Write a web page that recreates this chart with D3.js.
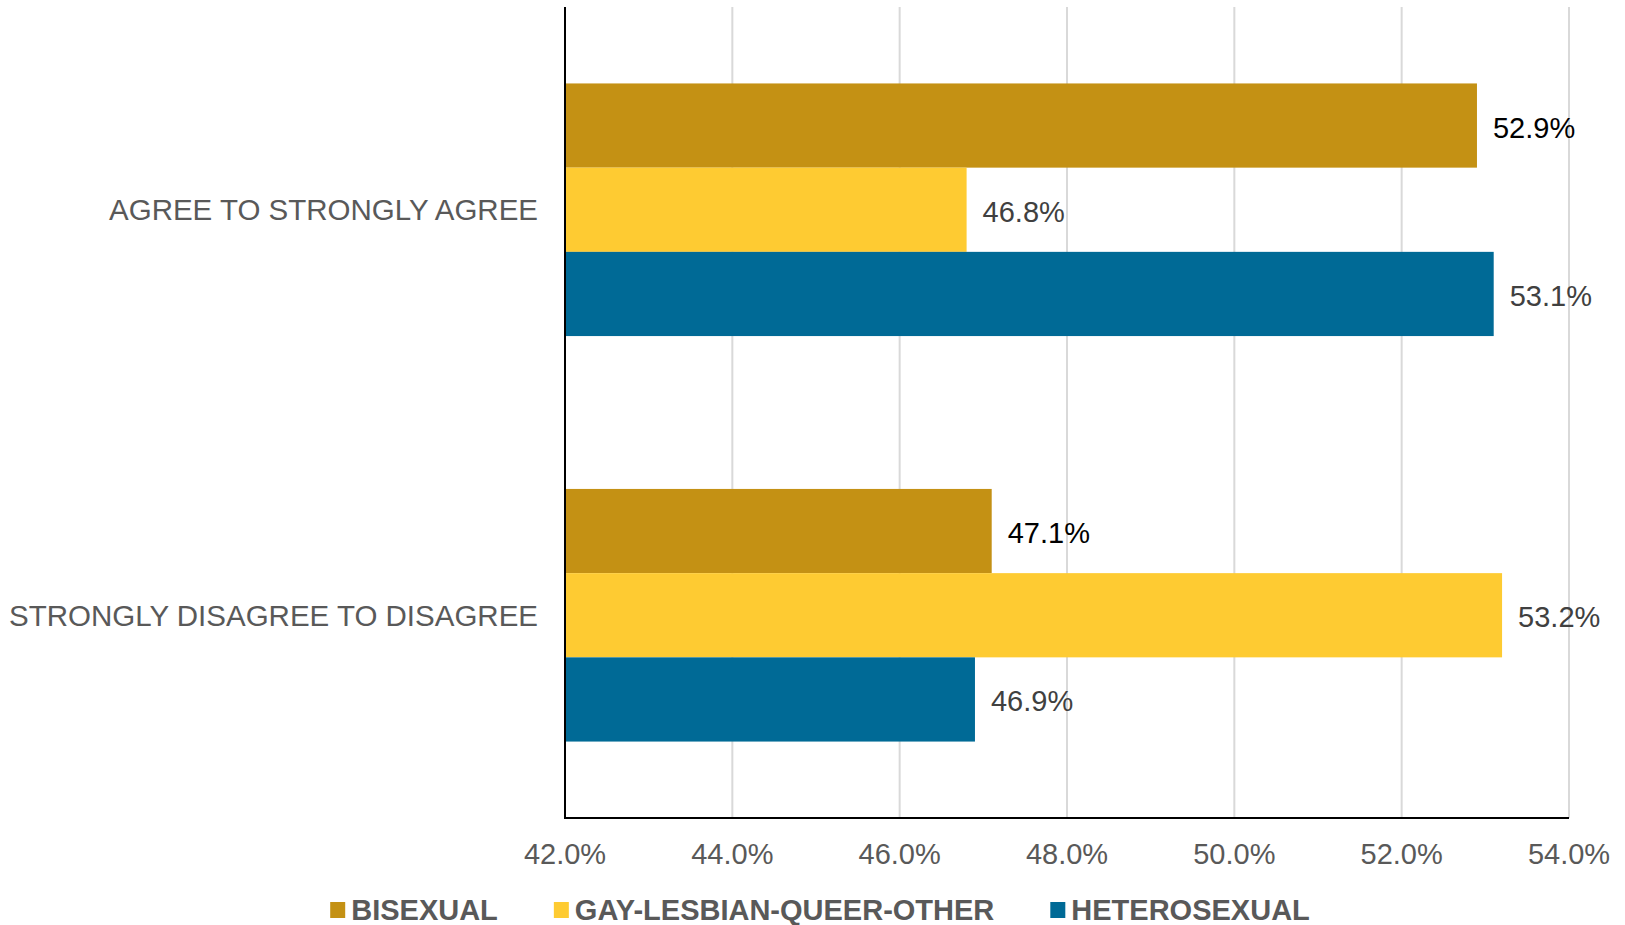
<!DOCTYPE html>
<html>
<head>
  <meta charset="utf-8">
  <style>
    body { margin: 0; background: #fff; }
    #chart text { font-family: "Liberation Sans", Arial, sans-serif; }
    .grid line { stroke: #d9d9d9; stroke-width: 2px; }
    .tick-label { fill: #595959; font-size: 29px; }
    .cat-label { fill: #595959; font-size: 29.5px; }
    .val-label { font-size: 29px; }
    .legend text { fill: #595959; font-size: 29px; font-weight: bold; }
  </style>
</head>
<body>
  <div id="chart"></div>
  <script src="https://d3js.org/d3.v7.min.js"></script>
  <script>
    // data
    var categories = ['AGREE TO STRONGLY AGREE', 'STRONGLY DISAGREE TO DISAGREE'];
    var seriesNames = ['BISEXUAL', 'GAY-LESBIAN-QUEER-OTHER', 'HETEROSEXUAL'];
    var bisexual = [52.9, 47.1];
    var gayLesbian = [46.8, 53.2];
    var heterosexual = [53.1, 46.9];
    var tickValues = [42, 44, 46, 48, 50, 52, 54];

    (function () {
      var seriesValues = [bisexual, gayLesbian, heterosexual];
      var colors = ['#c49114', '#fecb32', '#006a96'];
      var labelColors = ['#000000', '#404040', '#404040'];

      var width = 1625, height = 925;
      var plotLeft = 565, plotRight = 1569, plotTop = 7, plotBottom = 818;

      var svg = d3.select('#chart').append('svg')
        .attr('width', width)
        .attr('height', height);

      var x = d3.scaleLinear().domain([42, 54]).range([plotLeft, plotRight]);
      var y0 = d3.scaleBand().domain(categories).range([plotTop, plotBottom])
        .paddingInner(0.377).paddingOuter(0.1885);
      var y1 = d3.scaleBand().domain(seriesNames).range([0, y0.bandwidth()]);

      // gridlines
      svg.append('g').attr('class', 'grid')
        .selectAll('line').data(tickValues.slice(1)).enter().append('line')
        .attr('x1', function (d) { return x(d); })
        .attr('x2', function (d) { return x(d); })
        .attr('y1', plotTop)
        .attr('y2', plotBottom);

      // bars
      var rows = [];
      categories.forEach(function (c, i) {
        seriesNames.forEach(function (s, j) {
          rows.push({ cat: c, series: s, j: j, value: seriesValues[j][i] });
        });
      });

      svg.append('g').selectAll('rect').data(rows).enter().append('rect')
        .attr('x', x(42))
        .attr('y', function (d) { return y0(d.cat) + y1(d.series); })
        .attr('width', function (d) { return x(d.value) - x(42); })
        .attr('height', y1.bandwidth())
        .attr('fill', function (d) { return colors[d.j]; });

      svg.append('g').selectAll('text').data(rows).enter().append('text')
        .attr('class', 'val-label')
        .attr('x', function (d) { return x(d.value) + 16; })
        .attr('y', function (d) { return y0(d.cat) + y1(d.series) + y1.bandwidth() / 2 + 2; })
        .attr('dominant-baseline', 'central')
        .attr('fill', function (d) { return labelColors[d.j]; })
        .text(function (d) { return d.value.toFixed(1) + '%'; });

      // axis lines
      svg.append('line')
        .attr('x1', plotLeft).attr('x2', plotLeft)
        .attr('y1', plotTop).attr('y2', plotBottom + 1)
        .attr('stroke', '#000').attr('stroke-width', 2);
      svg.append('line')
        .attr('x1', plotLeft - 1).attr('x2', plotRight)
        .attr('y1', plotBottom).attr('y2', plotBottom)
        .attr('stroke', '#000').attr('stroke-width', 2);

      // tick labels
      svg.append('g').selectAll('text').data(tickValues).enter().append('text')
        .attr('class', 'tick-label')
        .attr('x', function (d) { return x(d); })
        .attr('y', 854)
        .attr('text-anchor', 'middle')
        .attr('dominant-baseline', 'central')
        .text(function (d) { return d.toFixed(1) + '%'; });

      // category labels
      svg.append('g').selectAll('text').data(categories).enter().append('text')
        .attr('class', 'cat-label')
        .attr('x', 538)
        .attr('y', function (d) { return y0(d) + y0.bandwidth() / 2; })
        .attr('text-anchor', 'end')
        .attr('dominant-baseline', 'central')
        .text(function (d) { return d; });

      // legend
      var legend = svg.append('g').attr('class', 'legend');
      var items = legend.selectAll('g').data(seriesNames).enter().append('g');
      items.append('rect')
        .attr('width', 15).attr('height', 16)
        .attr('y', -8)
        .attr('fill', function (d, i) { return colors[i]; });
      items.append('text')
        .attr('x', 21)
        .attr('dominant-baseline', 'central')
        .text(function (d) { return d; });

      var pos = 0;
      items.each(function () {
        var g = d3.select(this);
        g.attr('transform', 'translate(' + pos + ',0)');
        pos += 21 + g.select('text').node().getComputedTextLength() + 56;
      });
      var total = pos - 56;
      legend.attr('transform', 'translate(' + (820 - total / 2) + ',910)');
    })();
  </script>
</body>
</html>
